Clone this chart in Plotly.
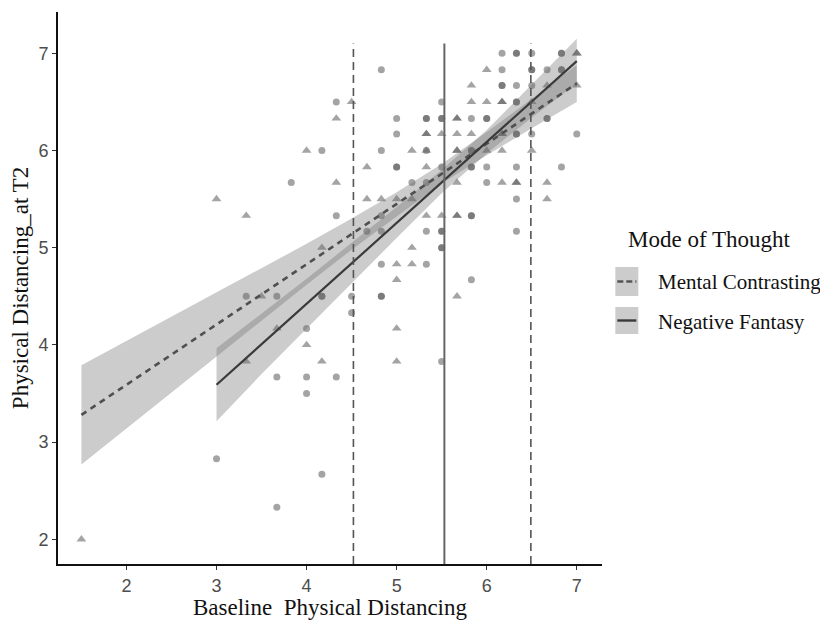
import plotly.graph_objects as go

# ---------------- data ----------------
# Negative Fantasy participants (circles)
nf_x = [6.17, 6.33, 6.33, 6.5, 6.83, 6.83,
        4.83, 6.17, 6.5, 6.5, 6.67, 6.83, 6.83,
        6.17, 6.17, 6.33, 6.5,
        4.33, 5.5, 6.33, 6.33,
        5.0, 5.33, 5.33, 5.5, 5.5, 5.83, 6.0, 6.0, 6.67, 6.67,
        5.0, 6.33, 6.33, 6.5, 7.0,
        4.17, 4.83, 5.33, 5.83, 5.83,
        5.0, 5.0, 5.5, 5.83, 5.83, 6.0, 6.33, 6.83,
        3.83, 5.17, 5.33, 6.0,
        6.33,
        4.33, 4.83, 5.83, 5.83,
        4.67, 4.83, 5.33, 5.5, 5.5, 6.33,
        5.5, 5.5,
        4.83, 5.33,
        5.83,
        3.33, 3.67, 4.17, 4.17, 4.5, 4.83, 4.83,
        4.5,
        4.0,
        5.5,
        3.67, 4.0, 4.33,
        4.0,
        3.0,
        4.17,
        3.67]
nf_y = [7.0] * 6 + [6.83] * 7 + [6.67] * 4 + [6.5] * 4 + [6.33] * 10 + \
       [6.17] * 5 + [6.0] * 5 + [5.83] * 8 + [5.67] * 4 + [5.5] * 1 + \
       [5.33] * 4 + [5.17] * 6 + [5.0] * 2 + [4.83] * 2 + [4.67] * 1 + \
       [4.5] * 7 + [4.33] * 1 + [4.17] * 1 + [3.83] * 1 + [3.67] * 3 + \
       [3.5] * 1 + [2.83] * 1 + [2.67] * 1 + [2.33] * 1

# Mental Contrasting participants (triangles)
mc_x = [7.0, 7.0,
        6.0,
        5.83, 6.67, 7.0,
        4.5, 5.83, 6.0, 6.17, 6.17, 6.5,
        4.33, 5.67, 5.67,
        5.33, 5.33, 5.5, 5.67, 5.83, 6.17, 6.17,
        4.0, 5.17, 5.33, 5.67, 5.67, 6.0, 6.17, 6.5,
        4.67, 5.33,
        4.33, 5.67, 6.17, 6.33, 6.33, 6.67,
        3.0, 4.67, 4.83, 5.0, 5.17, 6.67,
        3.33, 5.33, 5.5, 5.67, 5.67,
        4.17, 5.17,
        5.0, 5.17,
        5.0,
        3.5, 5.67,
        3.67, 5.0,
        4.0,
        3.33, 4.17, 5.0,
        1.5]
mc_y = [7.0] * 2 + [6.83] * 1 + [6.67] * 3 + [6.5] * 6 + [6.33] * 3 + \
       [6.17] * 7 + [6.0] * 8 + [5.83] * 2 + [5.67] * 6 + [5.5] * 6 + \
       [5.33] * 5 + [5.0] * 2 + [4.83] * 2 + [4.67] * 1 + [4.5] * 2 + \
       [4.17] * 2 + [4.0] * 1 + [3.83] * 3 + [2.0] * 1

# fitted lines (end points)
mc_fit_x = [1.5, 7.0]
mc_fit_y = [3.28, 6.69]
nf_fit_x = [3.0, 7.0]
nf_fit_y = [3.59, 6.92]

# confidence bands (edges)
mc_band_x = [1.5, 2.0, 2.5, 3.0, 3.5, 4.0, 4.5, 5.0, 5.5, 6.0, 6.5, 7.0]
mc_band_lo = [2.77, 3.14, 3.51, 3.88, 4.25, 4.62, 4.98, 5.32, 5.66, 5.95, 6.23, 6.50]
mc_band_hi = [3.79, 4.04, 4.29, 4.54, 4.79, 5.04, 5.30, 5.57, 5.86, 6.19, 6.53, 6.88]
nf_band_x = [3.0, 3.5, 4.0, 4.5, 5.0, 5.5, 6.0, 6.5, 7.0]
nf_band_lo = [3.215, 3.70, 4.16, 4.63, 5.10, 5.56, 5.97, 6.34, 6.69]
nf_band_hi = [3.965, 4.32, 4.68, 5.05, 5.42, 5.80, 6.21, 6.68, 7.15]

# reference lines (mean and +/- 1 SD of baseline)
ref_x = [4.52, 5.53, 6.49]
ref_top = 7.1

x_ticks = [2, 3, 4, 5, 6, 7]
y_ticks = [2, 3, 4, 5, 6, 7]
legend_title = "Mode of Thought"
groups = ["Mental Contrasting", "Negative Fantasy"]

# ---------------- figure ----------------
# the page body has an 8px margin, so the figure is drawn 8px in from the corner
OFF = 8
X_RANGE = [1.24, 7.28]
Y_RANGE = [1.746, 7.425]
W, H = 828 - OFF, 620 - OFF
PLOT_L, PLOT_R, PLOT_T, PLOT_B = 58.3, 601.7, 12, 564   # window pixels
ML, MT = PLOT_L - OFF, PLOT_T - OFF
MR, MB = W - (PLOT_R - OFF), H - (PLOT_B - OFF)

PT_COLOR = "rgba(90,90,90,0.55)"
BAND_COLOR = "rgba(110,110,110,0.35)"

fig = go.Figure()

fig.add_trace(go.Scatter(x=nf_x, y=nf_y, mode="markers", showlegend=False,
                         marker=dict(symbol="circle", size=7, color=PT_COLOR,
                                     line=dict(width=0)),
                         hoverinfo="skip"))
fig.add_trace(go.Scatter(x=mc_x, y=mc_y, mode="markers", showlegend=False,
                         marker=dict(symbol="triangle-up", size=8.5, color=PT_COLOR,
                                     line=dict(width=0)),
                         hoverinfo="skip"))

for bx, lo, hi in [(mc_band_x, mc_band_lo, mc_band_hi),
                   (nf_band_x, nf_band_lo, nf_band_hi)]:
    fig.add_trace(go.Scatter(x=bx + bx[::-1], y=hi + lo[::-1], mode="lines",
                             fill="toself", fillcolor=BAND_COLOR,
                             line=dict(width=0), showlegend=False,
                             hoverinfo="skip"))

fig.add_trace(go.Scatter(x=mc_fit_x, y=mc_fit_y, mode="lines", showlegend=False,
                         line=dict(color="#4f4f4f", width=2.6, dash="6px,5px")))
fig.add_trace(go.Scatter(x=nf_fit_x, y=nf_fit_y, mode="lines", showlegend=False,
                         line=dict(color="#3a3a3a", width=2.2)))

shapes = []
for i, rx in enumerate(ref_x):
    solid = (i == 1)
    shapes.append(dict(type="line", xref="x", yref="y", x0=rx, x1=rx,
                       y0=Y_RANGE[0], y1=ref_top,
                       line=dict(color="#666666" if solid else "#555555",
                                 width=2 if solid else 1.6,
                                 dash="solid" if solid else "8px,5px")))

# manual legend (window pixel -> paper helpers)
def px(xp):
    return (xp - PLOT_L) / (PLOT_R - PLOT_L)

def py(yp):
    return (PLOT_B - yp) / (PLOT_B - PLOT_T)

annotations = [dict(text=legend_title, xref="paper", yref="paper",
                    x=px(626), y=py(240), xanchor="left", yanchor="middle",
                    showarrow=False,
                    font=dict(family="Liberation Serif", size=23, color="#111111"))]
key_rows = [(267, 296, 282, "6px,3px", "#555555"), (307, 334, 322, "solid", "#3a3a3a")]
for name, (k0, k1, ty, dash, col) in zip(groups, key_rows):
    shapes.append(dict(type="rect", xref="paper", yref="paper",
                       x0=px(615), x1=px(638), y0=py(k1), y1=py(k0),
                       fillcolor="#cccccc", line=dict(width=0)))
    shapes.append(dict(type="line", xref="paper", yref="paper",
                       x0=px(617), x1=px(636), y0=py((k0 + k1) / 2), y1=py((k0 + k1) / 2),
                       line=dict(color=col, width=2.4, dash=dash)))
    annotations.append(dict(text=name, xref="paper", yref="paper",
                            x=px(656), y=py(ty), xanchor="left", yanchor="middle",
                            showarrow=False,
                            font=dict(family="Liberation Serif", size=21, color="#111111")))

fig.update_layout(
    width=W, height=H,
    margin=dict(l=ML, r=MR, t=MT, b=MB, autoexpand=False),
    paper_bgcolor="white", plot_bgcolor="white",
    font=dict(family="Liberation Sans", color="#4d4d4d"),
    shapes=shapes, annotations=annotations,
    showlegend=False,
)
fig.update_xaxes(range=X_RANGE, tickvals=x_ticks, showgrid=False, zeroline=False,
                 automargin=False,
                 showline=True, linecolor="#111111", linewidth=1.8,
                 ticks="outside", ticklen=4, tickwidth=1.2, tickcolor="#333333",
                 tickfont=dict(size=18, color="#4d4d4d", family="Liberation Sans"),
                 title=dict(text="Baseline  Physical Distancing", standoff=9,
                            font=dict(family="Liberation Serif", size=23, color="#111111")))
fig.update_yaxes(range=Y_RANGE, tickvals=y_ticks, showgrid=False, zeroline=False,
                 automargin=False,
                 showline=True, linecolor="#111111", linewidth=1.8,
                 ticks="outside", ticklen=4, tickwidth=1.2, tickcolor="#333333",
                 tickfont=dict(size=18, color="#4d4d4d", family="Liberation Sans"),
                 title=dict(text="Physical Distancing_at T2", standoff=6,
                            font=dict(family="Liberation Serif", size=23, color="#111111")))

fig.write_html("out.html")
